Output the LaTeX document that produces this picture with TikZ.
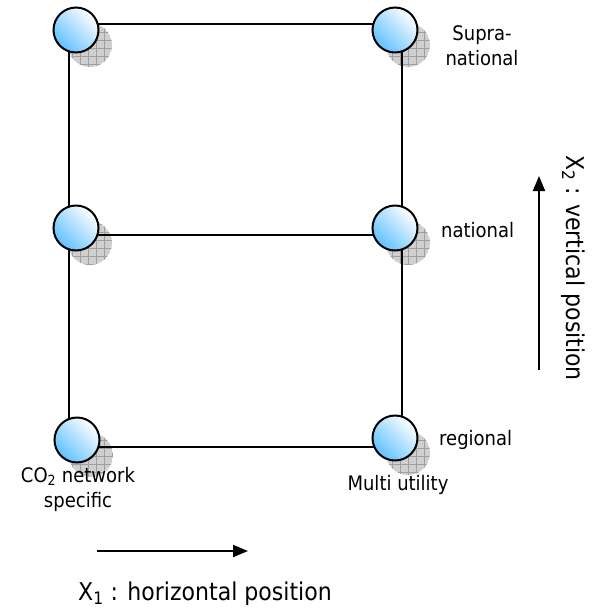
\documentclass[tikz,border=0pt]{standalone}
\usepackage{fontspec}
\setmainfont{DejaVu Sans}[FakeStretch=0.9]
\usetikzlibrary{arrows.meta}
\definecolor{ballblue}{RGB}{95,192,255}
\tikzset{
  link/.style={line width=2.3pt, black},
  ball/.style={circle, draw=black, line width=2pt, minimum size=45pt, inner sep=0pt,
    top color=white, bottom color=ballblue, shading angle=-45},
  lbl/.style={font=\fontsize{20}{25}\selectfont, inner sep=0pt, align=center},
  biglbl/.style={font=\fontsize{24.5}{28}\selectfont, inner sep=0pt},
  axisarrow/.style={line width=2pt, -{Triangle[length=15pt,width=12pt]}},
}
\begin{document}
\begin{tikzpicture}[x=1pt,y=-1pt]
\useasboundingbox (0,0) rectangle (606,614);
% shadows
\foreach \x/\y in {76/30, 394/30, 76/228, 394/228, 77/440, 394/438} {
  \begin{scope}
    \clip (\x+14,\y+15) circle (22);
    \fill[gray!38] (\x+14,\y+15) circle (22);
    \draw[gray!75, line width=0.5pt, step=8pt] (\x-10,\y-10) grid (\x+40,\y+40);
  \end{scope}
}
% frame corners
\coordinate (c1) at (69,24);
\coordinate (c2) at (402,24);
\coordinate (c3) at (69,235);
\coordinate (c4) at (402,235);
\coordinate (c5) at (69,447);
\coordinate (c6) at (402,447);
\draw[link] (c1) -- (c2);
\draw[link] (c3) -- (c4);
\draw[link] (c5) -- (c6);
\draw[link] (c1) -- (c5);
\draw[link] (c2) -- (c6);
% balls
\node[ball] (tl) at (76,30) {};
\node[ball] (tr) at (395,30) {};
\node[ball] (ml) at (76,228) {};
\node[ball] (mr) at (395,228) {};
\node[ball] (bl) at (77,440) {};
\node[ball] (br) at (395,438) {};
% labels
\node[lbl] (lsup) at (482,46) {Supra-\\national};
\node[lbl, anchor=west] (lnat) at (441,230) {national};
\node[lbl, anchor=west] (lreg) at (439,440) {regional};
\node[lbl] (lco) at (78,489) {CO\textsubscript{2} network\\specific};
\node[lbl] (lmu) at (398,485) {Multi utility};
% axes
\coordinate (ha) at (97,551);
\coordinate (hb) at (248,551);
\draw[axisarrow] (ha) -- (hb);
\coordinate (va) at (539,370);
\coordinate (vb) at (539,176);
\draw[axisarrow] (va) -- (vb);
\node[biglbl] (lx1) at (205,594) {X\textsubscript{1} : horizontal position};
\node[biglbl, rotate=-90] (lx2) at (573,268) {X\textsubscript{2} : vertical position};
\end{tikzpicture}
\end{document}
